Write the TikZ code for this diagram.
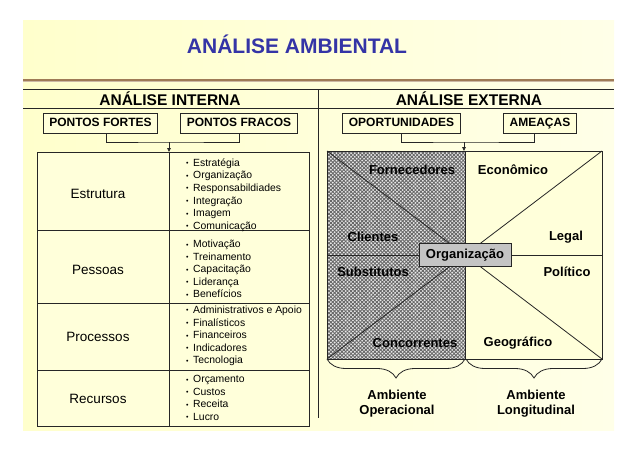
\documentclass[tikz,border=0pt]{standalone}
\usepackage{fontspec}
\setmainfont{Liberation Sans}
\usetikzlibrary{arrows.meta,positioning,decorations.pathreplacing,patterns.meta,calc}

\definecolor{paper}{HTML}{FFFFDA}
\definecolor{titleblue}{HTML}{3434A6}
\definecolor{rulebrown}{HTML}{8E6438}
\definecolor{orggray}{HTML}{C4C4C4}

\newcommand{\itm}{\makebox[7pt][l]{\raisebox{0.5pt}{\fontsize{7}{7}\selectfont\textbullet}}}

\tikzset{
  frame/.style={draw=black!85, line width=0.8pt},
  headbox/.style={frame, fill=paper, inner xsep=6pt, inner ysep=0pt,
    text height=9pt, text depth=2.5pt, minimum height=20pt,
    font=\fontsize{12}{14}\selectfont\bfseries},
  headtext/.style={font=\fontsize{15.5}{18}\selectfont\bfseries},
  rowlabel/.style={font=\fontsize{13.5}{16}\selectfont},
  itemlist/.style={font=\fontsize{10.4}{12.6}\selectfont, align=left,
    anchor=west, inner sep=0pt},
  envtext/.style={font=\fontsize{13}{15}\selectfont\bfseries},
  envlabel/.style={envtext, align=center, inner sep=0pt},
  connector/.style={draw=black!85, line width=0.8pt},
  hatch/.style={pattern={Lines[angle=45,distance=2.6pt,line width=0.9pt]},
    pattern color=black!60},
  hatchb/.style={pattern={Lines[angle=-45,distance=2.6pt,line width=0.9pt]},
    pattern color=black!60}
}

\begin{document}
\begin{tikzpicture}[x=1pt,y=-1pt]
\useasboundingbox (0,0) rectangle (638,451);

% Background
\fill[white] (0,0) rectangle (638,451);
\shade[left color=yellow!20, right color=yellow!9] (23,20) rectangle (614,430);

% Title and rule
\node[titleblue, font=\fontsize{21}{24}\selectfont\bfseries, anchor=base]
  (title) at (297,53) {ANÁLISE AMBIENTAL};
\draw[rulebrown!85, line width=3.2pt] (23,80.3) -- (614,80.3);
\draw[rulebrown!45, line width=0.8pt] (23,81.3) -- (614,81.3);

% Header band
\draw[frame] (23,89) -- (614,89);
\draw[frame] (23,108) -- (614,108);
\draw[frame] (318,89) -- (318,418);
\node[headtext] (hint) at (170,99) {ANÁLISE INTERNA};
\node[headtext] (hext) at (469,99) {ANÁLISE EXTERNA};

% Strengths / weaknesses / opportunities / threats
\node[headbox] (fortes) at (100.5,123) {PONTOS FORTES};
\node[headbox] (fracos) at (239,123) {PONTOS FRACOS};
\node[headbox] (oport) at (401.5,123) {OPORTUNIDADES};
\node[headbox] (ameacas) at (540,123) {AMEAÇAS};

\coordinate (jInt) at (169,142);
\coordinate (jExt) at (464,142);
\coordinate (tabtop) at (169,152);
\coordinate (sqtop) at (464,151);

\draw[connector] ([xshift=6]fortes.south) |- (jInt) -| (fracos.south);
\draw[connector] (oport.south) |- (jExt) -| ([xshift=-6]ameacas.south);
\draw[connector, -{Triangle[length=4pt,width=3.5pt]}] (jInt) -- (tabtop);
\draw[connector, -{Triangle[length=4pt,width=3.5pt]}] (jExt) -- (sqtop);

% Internal analysis table
\fill[paper] (37,152) rectangle (309,426);
\draw[frame] (37,152) rectangle (309,426);
\draw[frame] (169,152) -- (169,426);
\foreach \y in {230,303,370}
  \draw[frame] (37,\y) -- (309,\y);

\node[rowlabel] (estrutura) at (98,194) {Estrutura};
\node[rowlabel] (pessoas) at (98,270) {Pessoas};
\node[rowlabel] (processos) at (98,337) {Processos};
\node[rowlabel] (recursos) at (98,399) {Recursos};

\node[itemlist] (lEstrutura) at (186,195) {\itm Estratégia\\ \itm Organização\\
  \itm Responsabildiades\\ \itm Integração\\ \itm Imagem\\ \itm Comunicação};
\node[itemlist] (lPessoas) at (186,269) {\itm Motivação\\ \itm Treinamento\\
  \itm Capacitação\\ \itm Liderança\\ \itm Benefícios};
\node[itemlist] (lProcessos) at (186,336) {\itm Administrativos e Apoio\\
  \itm Finalísticos\\ \itm Financeiros\\ \itm Indicadores\\ \itm Tecnologia};
\node[itemlist] (lRecursos) at (186,398) {\itm Orçamento\\ \itm Custos\\
  \itm Receita\\ \itm Lucro};

% External analysis square
\coordinate (sqNW) at (327,151);
\coordinate (sqNE) at (602,151);
\coordinate (sqSW) at (327,359);
\coordinate (sqSE) at (602,359);
\coordinate (sqS) at (465,359);
\coordinate (sqW) at (327,255);
\coordinate (sqE) at (602,255);

\fill[paper] (465,151) rectangle (sqSE);
\fill[white!92!black] (sqNW) rectangle (sqS);
\fill[hatch] (sqNW) rectangle (sqS);
\fill[hatchb] (sqNW) rectangle (sqS);
\draw[frame] (sqNW) rectangle (sqSE);
\draw[frame] (465,151) -- (sqS);

\node[frame, fill=orggray, envtext, minimum width=92pt, minimum height=23pt,
  inner sep=2pt] (org) at (465,255) {Organização};

\draw[connector] (sqNW) -- (org);
\draw[connector] (sqNE) -- (org);
\draw[connector] (sqSW) -- (org);
\draw[connector] (sqSE) -- (org);
\draw[connector] (sqW) -- (org);
\draw[connector] (org) -- (sqE);

\node[envtext] (fornec) at (412,170) {Fornecedores};
\node[envtext] (econ) at (513,170) {Econômico};
\node[envtext] (clientes) at (373,237) {Clientes};
\node[envtext] (legal) at (566,237) {Legal};
\node[envtext] (subst) at (373,272) {Substitutos};
\node[envtext] (polit) at (567,272) {Político};
\node[envtext] (concor) at (415,343) {Concorrentes};
\node[envtext] (geogr) at (518,343) {Geográfico};

% Braces
\draw[connector, decorate, decoration={brace, mirror, amplitude=19pt}]
  (sqSW) -- (sqS);
\draw[connector, decorate, decoration={brace, mirror, amplitude=19pt}]
  ([xshift=1]sqS) -- (sqSE);

\node[envlabel] (operac) at (397,403.5) {Ambiente\\Operacional};
\node[envlabel] (longit) at (536,403.5) {Ambiente\\Longitudinal};

\end{tikzpicture}
\end{document}
